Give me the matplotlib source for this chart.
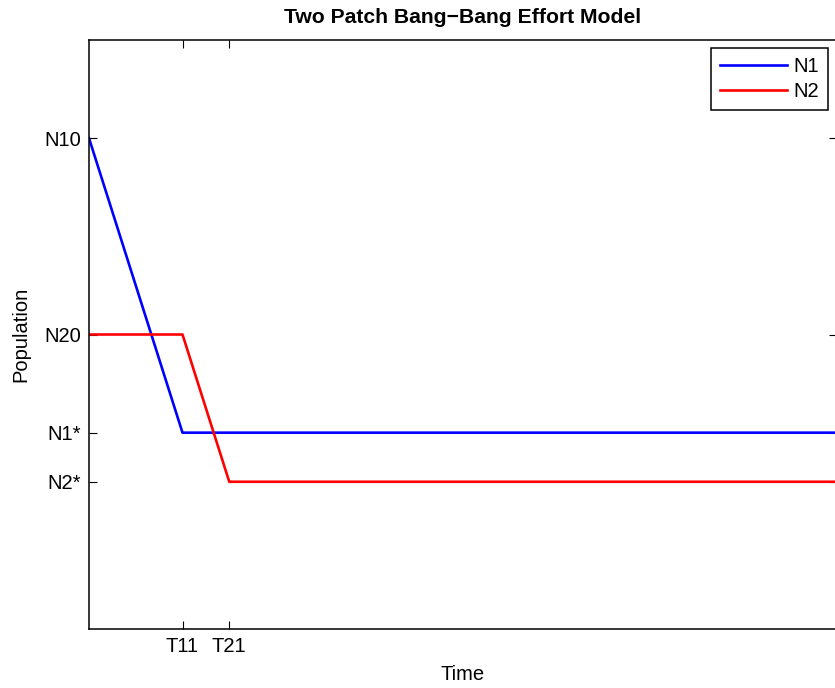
import matplotlib.pyplot as plt

# --- data ---
t = [0, 2, 3, 16]
n1 = [10, 4, 4, 4]
n2 = [6, 6, 3, 3]
x_ticks = [2, 3]
x_tick_labels = ["T11", "T21"]
y_ticks = [3, 4, 6, 10]
y_tick_labels = ["N2*", "N1*", "N20", "N10"]

plt.rcParams["font.family"] = ["Liberation Sans", "DejaVu Sans"]
plt.rcParams["font.size"] = 14.5

# --- plot ---
fig = plt.figure(figsize=(8.35, 6.88), dpi=100)
ax = fig.add_axes([89 / 835, 1 - 629 / 688, 748 / 835, 589 / 688])

ax.plot(t, n1, color="#0000ff", lw=1.9, label="N1")
ax.plot(t, n2, color="#ff0000", lw=1.9, label="N2")

ax.set_xlim(0, 16)
ax.set_ylim(0, 12)
ax.set_xticks(x_ticks, x_tick_labels)
ax.set_yticks(y_ticks, y_tick_labels)
ax.tick_params(direction="in", length=6, width=0.8, top=True, right=True, pad=6)
for s in ax.spines.values():
    s.set_linewidth(1.1)

ax.set_xlabel("Time", labelpad=6)
ax.set_ylabel("Population", labelpad=10)
ax.set_title("Two Patch Bang\u2212Bang Effort Model", fontweight="bold", fontsize=15.2, pad=12)

leg = ax.legend(loc="upper right", bbox_to_anchor=(0.9885, 0.987), fancybox=False,
                edgecolor="black", framealpha=1, borderpad=0.45, labelspacing=0.3,
                handlelength=3.3, handletextpad=0.35, borderaxespad=0)
leg.get_frame().set_linewidth(1.1)

fig.savefig("out.png", dpi=100)
